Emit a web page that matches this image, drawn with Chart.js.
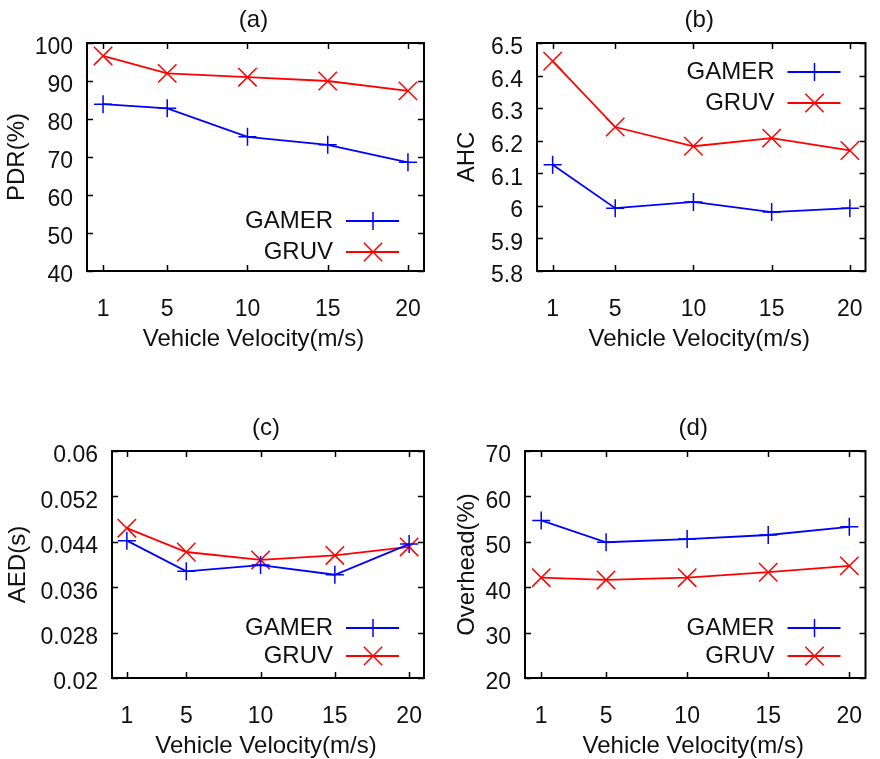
<!DOCTYPE html>
<html><head><meta charset="utf-8">
<script src="https://cdn.jsdelivr.net/npm/chart.js@4.4.1/dist/chart.umd.min.js"></script>
<style>
html,body{margin:0;padding:0;background:#fff;width:880px;height:759px;overflow:hidden}
canvas{position:absolute}
</style></head><body>
<canvas id="ca" width="440" height="380" style="left:0px;top:0px"></canvas>
<canvas id="cb" width="440" height="380" style="left:440px;top:0px"></canvas>
<canvas id="cc" width="440" height="379" style="left:0px;top:380px"></canvas>
<canvas id="cd" width="440" height="379" style="left:440px;top:380px"></canvas>
<script>
// ---------- data ----------
const velocity = [1, 5, 10, 15, 20];
const seriesNames = ['GAMER', 'GRUV'];
const xTitle = 'Vehicle Velocity(m/s)';

const pdrGamer = [83.9, 82.8, 75.3, 73.2, 68.6];
const pdrGruv  = [96.6, 92.0, 91.0, 90.0, 87.4];
const pdrTicks = [40, 50, 60, 70, 80, 90, 100];

const ahcGamer = [6.126, 5.993, 6.012, 5.981, 5.993];
const ahcGruv  = [6.444, 6.242, 6.183, 6.208, 6.170];
const ahcTicks = [5.8, 5.9, 6, 6.1, 6.2, 6.3, 6.4, 6.5];

const aedGamer = [0.0442, 0.0388, 0.0399, 0.0382, 0.0436];
const aedGruv  = [0.0464, 0.0422, 0.0408, 0.0416, 0.0431];
const aedTicks = [0.02, 0.028, 0.036, 0.044, 0.052, 0.06];

const ovhGamer = [54.7, 49.9, 50.6, 51.5, 53.3];
const ovhGruv  = [42.1, 41.6, 42.1, 43.3, 44.7];
const ovhTicks = [20, 30, 40, 50, 60, 70];

// ---------- styling ----------
const FONT = "'Liberation Sans', Arial, Helvetica, sans-serif";
const TEXT = '#111';
const COLORS = ['#0000ff', '#ff0000'];
const STYLES = ['cross', 'crossRot'];
const RADII = [9, 13];

function drawMarker(ctx, style, x, y, r) {
  ctx.beginPath();
  if (style === 'cross') {
    ctx.moveTo(x - r, y); ctx.lineTo(x + r, y);
    ctx.moveTo(x, y - r); ctx.lineTo(x, y + r);
  } else {
    const d = r * Math.SQRT1_2;
    ctx.moveTo(x - d, y - d); ctx.lineTo(x + d, y + d);
    ctx.moveTo(x + d, y - d); ctx.lineTo(x - d, y + d);
  }
  ctx.stroke();
}

const decor = {
  id: 'decor',
  beforeDatasetsDraw(chart, args, o) {
    const ctx = chart.ctx, a = chart.chartArea;
    const xs = chart.scales.x, ys = chart.scales.y;
    const TL = 6;
    ctx.save();
    ctx.strokeStyle = '#000';
    ctx.lineWidth = 1.5;
    ctx.beginPath();
    xs.ticks.forEach(t => {
      const px = Math.round(xs.getPixelForValue(t.value)) + 0.5;
      ctx.moveTo(px, a.bottom); ctx.lineTo(px, a.bottom - TL);
      ctx.moveTo(px, a.top); ctx.lineTo(px, a.top + TL);
    });
    ys.ticks.forEach(t => {
      const py = Math.round(ys.getPixelForValue(t.value)) + 0.5;
      ctx.moveTo(a.left, py); ctx.lineTo(a.left + TL, py);
      ctx.moveTo(a.right, py); ctx.lineTo(a.right - TL, py);
    });
    ctx.stroke();
    ctx.lineWidth = 2;
    ctx.strokeRect(a.left, a.top, a.right - a.left, a.bottom - a.top);
    ctx.restore();
  },
  afterDraw(chart, args, o) {
    const ctx = chart.ctx, a = chart.chartArea;
    const cx = (a.left + a.right) / 2 - 2;
    ctx.save();
    ctx.fillStyle = TEXT;
    ctx.font = '24px ' + FONT;
    ctx.textAlign = 'center';
    ctx.textBaseline = 'middle';
    // panel title
    ctx.fillText(o.title, cx, a.top - 23);
    // x axis title
    ctx.fillText(xTitle, cx, a.bottom + 68);
    // y axis title
    ctx.save();
    ctx.translate(o.yTitleX, (a.top + a.bottom) / 2);
    ctx.rotate(-Math.PI / 2);
    ctx.fillText(o.yTitle, 0, 0);
    ctx.restore();
    // legend
    chart.data.datasets.forEach((ds, i) => {
      const y = o.legendTop ? a.top + o.legendRows[i] : a.bottom - o.legendRows[i];
      ctx.textAlign = 'right';
      ctx.fillStyle = TEXT;
      ctx.fillText(ds.label, a.right - 91, y);
      ctx.strokeStyle = ds.borderColor;
      ctx.lineWidth = 1.8;
      ctx.beginPath();
      ctx.moveTo(a.right - 78, y); ctx.lineTo(a.right - 25, y);
      ctx.stroke();
      ctx.lineWidth = 1.5;
      drawMarker(ctx, ds.pointStyle, a.right - 51, y, ds.pointRadius);
    });
    ctx.restore();
  }
};

function makeChart(id, cfg) {
  const W = cfg.w, H = cfg.h;
  const datasets = cfg.series.map((vals, i) => ({
    label: seriesNames[i],
    data: velocity.map((v, k) => ({ x: v, y: vals[k] })),
    borderColor: COLORS[i],
    backgroundColor: COLORS[i],
    borderWidth: 1.8,
    pointStyle: STYLES[i],
    pointRadius: RADII[i],
    pointBorderWidth: 1.5,
    pointHoverRadius: RADII[i],
    tension: 0,
    fill: false,
    clip: false
  }));
  return new Chart(document.getElementById(id), {
    type: 'line',
    data: { datasets },
    options: {
      responsive: false,
      animation: false,
      devicePixelRatio: 1,
      events: [],
      layout: { padding: { left: 0, top: cfg.top, right: W - cfg.right, bottom: 0 } },
      plugins: {
        legend: { display: false },
        tooltip: { enabled: false },
        title: { display: false },
        decor: { title: cfg.title, yTitle: cfg.yTitle, yTitleX: cfg.yTitleX, legendTop: cfg.legendTop, legendRows: cfg.legendRows }
      },
      scales: {
        x: {
          type: 'linear', min: 0, max: 21,
          grid: { display: false, drawTicks: false },
          border: { display: false },
          afterBuildTicks: s => { s.ticks = velocity.map(v => ({ value: v })); },
          afterFit: s => { s.height = H - cfg.bottom; s.paddingLeft = 0; s.paddingRight = 0; },
          ticks: { padding: 25, maxRotation: 0, autoSkip: false, color: TEXT, font: { family: FONT, size: 23 }, callback: v => String(v) }
        },
        y: {
          type: 'linear', min: cfg.ticks[0], max: cfg.ticks[cfg.ticks.length - 1],
          grid: { display: false, drawTicks: false },
          border: { display: false },
          afterBuildTicks: s => { s.ticks = cfg.ticks.map(v => ({ value: v })); },
          afterFit: s => { s.width = cfg.left; s.paddingTop = 0; s.paddingBottom = 0; },
          ticks: { padding: 14, labelOffset: 5, autoSkip: false, color: TEXT, font: { family: FONT, size: 23 }, callback: v => String(v) }
        }
      }
    },
    plugins: [decor]
  });
}

makeChart('ca', { w: 440, h: 380, left: 87, right: 424, top: 43, bottom: 271,
  series: [pdrGamer, pdrGruv], ticks: pdrTicks, title: '(a)', yTitle: 'PDR(%)', yTitleX: 17,
  legendTop: false, legendRows: [50, 19] });
makeChart('cb', { w: 440, h: 380, left: 97, right: 433, top: 43, bottom: 271,
  series: [ahcGamer, ahcGruv], ticks: ahcTicks, title: '(b)', yTitle: 'AHC', yTitleX: 27,
  legendTop: true, legendRows: [29, 60] });
makeChart('cc', { w: 440, h: 379, left: 112, right: 424, top: 71, bottom: 298,
  series: [aedGamer, aedGruv], ticks: aedTicks, title: '(c)', yTitle: 'AED(s)', yTitleX: 18,
  legendTop: false, legendRows: [50, 22] });
makeChart('cd', { w: 440, h: 379, left: 85, right: 433, top: 71, bottom: 298,
  series: [ovhGamer, ovhGruv], ticks: ovhTicks, title: '(d)', yTitle: 'Overhead(%)', yTitleX: 27,
  legendTop: false, legendRows: [50, 22] });
</script>
</body></html>
